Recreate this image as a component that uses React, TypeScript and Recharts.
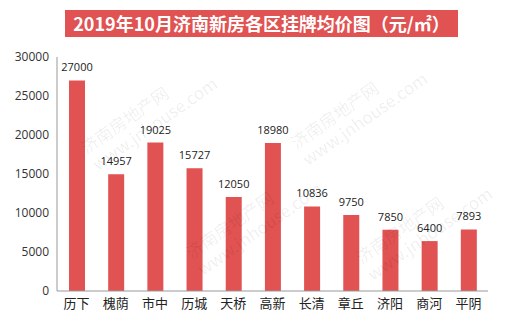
import { BarChart, Bar, XAxis, YAxis, LabelList } from 'recharts'

const districts = ['历下', '槐荫', '市中', '历城', '天桥', '高新', '长清', '章丘', '济阳', '商河', '平阴']
const prices = [27000, 14957, 19025, 15727, 12050, 18980, 10836, 9750, 7850, 6400, 7893]
const yTicks = [0, 5000, 10000, 15000, 20000, 25000, 30000]

const data = districts.map((name, i) => ({ name, price: prices[i] }))

const RED = '#E15252'

// faint site watermark, same as the source image
const Watermark = ({ left, top }: { left: number; top: number }) => (
  <div
    style={{
      position: 'absolute',
      left,
      top,
      transform: 'rotate(-35deg)',
      color: 'rgba(0,0,0,0.07)',
      fontFamily: 'Noto Sans CJK SC, sans-serif',
      fontSize: 17,
      lineHeight: '20px',
      whiteSpace: 'nowrap',
      pointerEvents: 'none',
    }}
  >
    济南房地产网
    <br />
    www.jnhouse.com
  </div>
)

const App = () => {
  return (
    <div style={{ position: 'absolute', left: 0, top: 0, width: 510, height: 330, background: '#fff', overflow: 'hidden' }}>
      <div
        style={{
          position: 'absolute',
          left: 65,
          top: 10,
          width: 393,
          height: 27,
          background: RED,
          color: '#fff',
          fontFamily: 'Noto Sans CJK SC, sans-serif',
          fontWeight: 700,
          fontSize: 18,
          lineHeight: '27px',
          textAlign: 'center',
          whiteSpace: 'nowrap',
        }}
      >
        2019年10月济南新房各区挂牌均价图（元/㎡）
      </div>
      <BarChart
        width={510}
        height={330}
        data={data}
        margin={{ top: 57, right: 22, bottom: 14, left: 8 }}
      >
        <XAxis
          dataKey='name'
          stroke='#999'
          tickLine={false}
          height={25}
          tick={{ fill: '#222', fontSize: 13, fontFamily: 'Noto Sans CJK SC, sans-serif' }}
          interval={0}
        />
        <YAxis
          domain={[0, 30000]}
          ticks={yTicks}
          width={49}
          stroke='#999'
          tickLine={false}
          tick={{ fill: '#333', fontSize: 12, fontFamily: 'Open Sans, sans-serif' }}
        />
        <Bar dataKey='price' fill={RED} barSize={16} isAnimationActive={false}>
          <LabelList
            dataKey='price'
            position='top'
            offset={9}
            style={{ fill: '#222', fontSize: 11, fontFamily: 'Open Sans, sans-serif' }}
          />
        </Bar>
      </BarChart>
      <Watermark left={75} top={95} />
      <Watermark left={285} top={90} />
      <Watermark left={180} top={200} />
      <Watermark left={350} top={205} />
    </div>
  )
}

export default App
